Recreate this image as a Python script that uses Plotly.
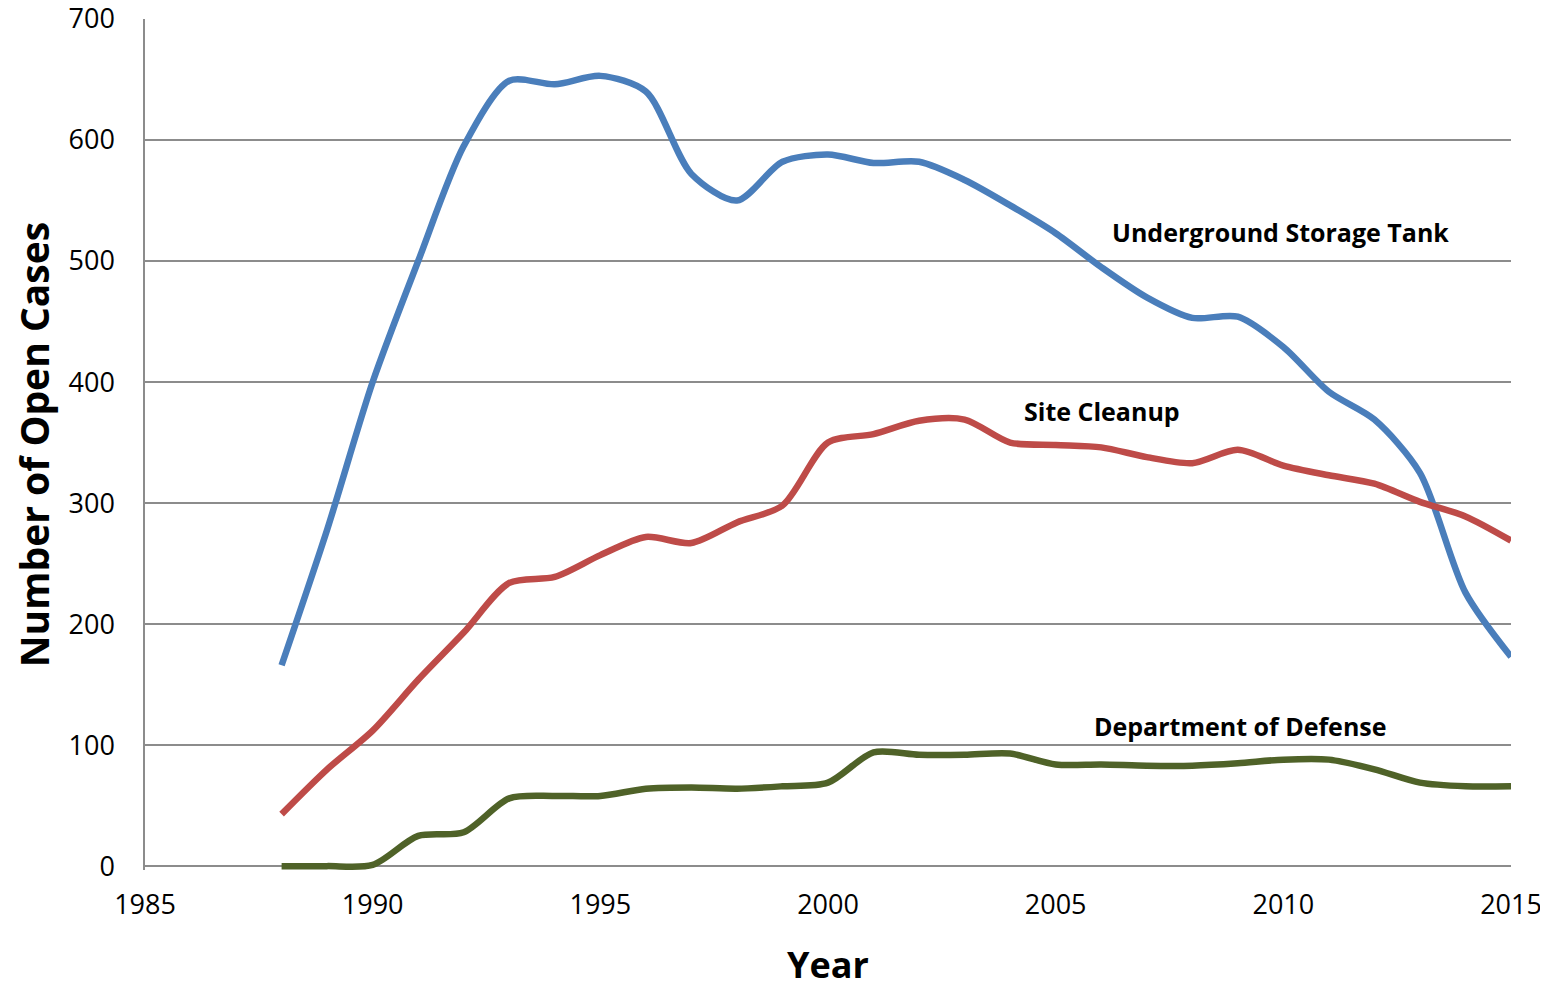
import plotly.graph_objects as go

years = list(range(1988, 2016))

ust = [166, 278, 400, 500, 595, 649, 646, 653, 640, 572, 550, 582, 588, 581, 582,
       567, 546, 523, 495, 470, 453, 454, 429, 392, 369, 325, 226, 173]
site_cleanup = [43, 80, 112, 154, 193, 234, 239, 257, 272, 267, 284, 298, 350, 357, 368,
                369, 350, 348, 346, 338, 333, 344, 331, 323, 316, 301, 289, 269]
dod = [0, 0, 1, 25, 28, 56, 58, 58, 64, 65, 64, 66, 69, 94, 92,
       92, 93, 84, 84, 83, 83, 85, 88, 88, 80, 69, 66, 66]

series_names = ["Underground Storage Tank", "Site Cleanup", "Department of Defense"]
series_values = [ust, site_cleanup, dod]
series_colors = ["#4A7EBB", "#BE4B48", "#4F6228"]
label_pos = [(2009.93, 524), (2006.02, 376), (2009.05, 116)]

x_ticks = [1985, 1990, 1995, 2000, 2005, 2010, 2015]
y_ticks = [0, 100, 200, 300, 400, 500, 600, 700]

fig = go.Figure()
for name, vals, col in zip(series_names, series_values, series_colors):
    fig.add_trace(go.Scatter(
        x=years, y=vals, mode="lines", name=name,
        line=dict(color=col, width=6.5, shape="spline", smoothing=0.8),
    ))

for name, (lx, ly) in zip(series_names, label_pos):
    fig.add_annotation(x=lx, y=ly, text="<b>" + name + "</b>", showarrow=False,
                       font=dict(family="Open Sans", size=25, color="#000000"))

fig.add_annotation(x=0.5, y=-0.111, xref="paper", yref="paper", text="<b>Year</b>",
                   showarrow=False, font=dict(family="Open Sans", size=36, color="#000"),
                   yanchor="middle")
fig.add_annotation(x=-0.0815, y=0.5, xref="paper", yref="paper",
                   text="<b>Number of Open Cases</b>", textangle=-90,
                   showarrow=False, font=dict(family="Open Sans", size=39, color="#000"),
                   xanchor="center")

fig.update_layout(
    width=1548, height=985,
    margin=dict(l=137, r=45, t=11, b=123),
    paper_bgcolor="white", plot_bgcolor="white",
    showlegend=False,
    font=dict(family="Open Sans", size=27, color="#000"),
)
fig.update_xaxes(range=[1985, 2015], tickvals=x_ticks, showgrid=False, zeroline=False,
                 showline=False, ticks="", ticklabelstandoff=16, automargin=False,
                 ticklabeloverflow="allow",
                 tickfont=dict(family="Open Sans", size=27, color="#000"))
fig.update_yaxes(range=[-3.2, 700], tickvals=y_ticks, showgrid=True, gridcolor="#8C8C8C",
                 gridwidth=1.5, zeroline=False, showline=True, linecolor="#8C8C8C",
                 linewidth=1.5, ticks="", ticklabelstandoff=23, automargin=False,
                 ticklabeloverflow="allow",
                 tickfont=dict(family="Open Sans", size=27, color="#000"))

fig.write_html("out.html")
